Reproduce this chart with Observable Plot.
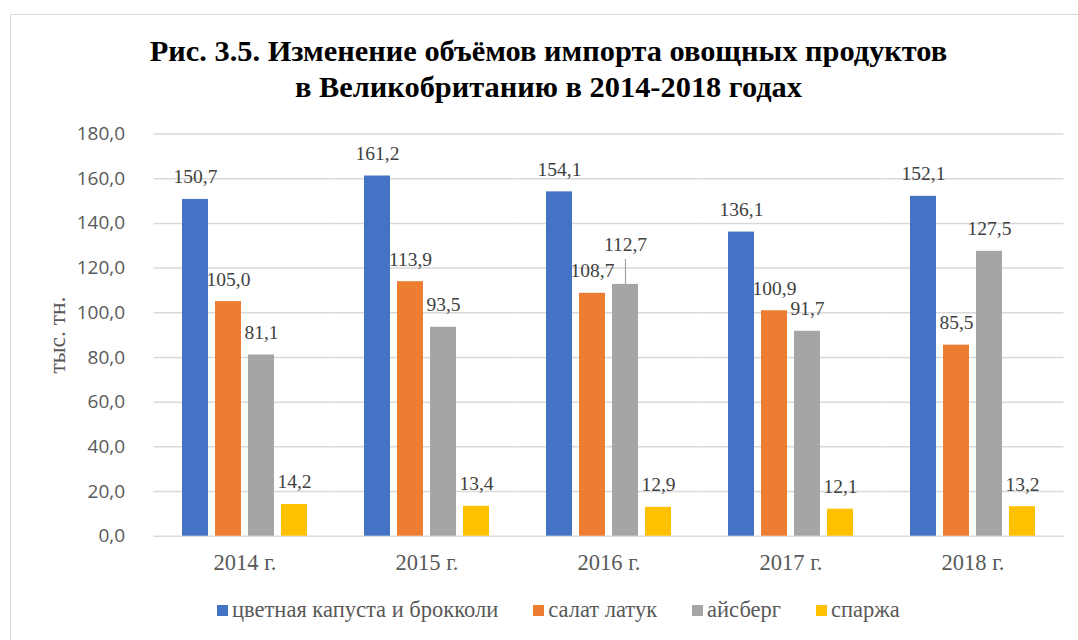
<!DOCTYPE html>
<html><head><meta charset="utf-8">
<script src="https://cdn.jsdelivr.net/npm/d3@7"></script>
<script src="https://cdn.jsdelivr.net/npm/@observablehq/plot@0.6"></script>
<style>
html,body{margin:0;padding:0;background:#fff;overflow:hidden;width:1078px;height:640px;position:relative}
#frame{position:absolute;left:10px;top:14px;width:1100px;height:700px;border:1px solid #d9d9d9;box-sizing:border-box}
#title{position:absolute;left:0;top:33px;width:1097px;text-align:center;font:bold 30.4px/36px "Liberation Serif","Times New Roman",serif;color:#000}
#chart{position:absolute;left:0;top:110px}
#ylabel{position:absolute;left:58px;top:334.6px;transform:translate(-50%,-50%) rotate(-90deg);font:23.5px/23.5px "Liberation Serif","Times New Roman",serif;color:#595959;white-space:nowrap}
#legend{position:absolute;left:217px;top:598px;display:flex;font:22.5px/24px "Liberation Serif","Times New Roman",serif;color:#595959;white-space:nowrap}
#legend .item{margin-right:35px}
#legend .sw{display:inline-block;width:11px;height:11px;margin-right:4px;vertical-align:1px}
</style></head>
<body>
<div id="frame"></div>
<div id="title">Рис. 3.5. Изменение объёмов импорта овощных продуктов<br>в Великобританию в 2014-2018 годах</div>
<div id="chart"></div>
<div id="ylabel"></div>
<div id="legend"></div>
<script>
const years = ["2014 г.", "2015 г.", "2016 г.", "2017 г.", "2018 г."];
const series = ["цветная капуста и брокколи", "салат латук", "айсберг", "спаржа"];
const cauliflowerBroccoli = [150.7, 161.2, 154.1, 136.1, 152.1];
const lettuce = [105.0, 113.9, 108.7, 100.9, 85.5];
const iceberg = [81.1, 93.5, 112.7, 91.7, 127.5];
const asparagus = [14.2, 13.4, 12.9, 12.1, 13.2];
const colors = ["#4472C4", "#ED7D31", "#A5A5A5", "#FFC000"];
const yTicks = [0, 20, 40, 60, 80, 100, 120, 140, 160, 180];
const yLabel = "тыс. тн.";
const raisedLabels = [["2016 г.", "айсберг"]];

const seriesValues = [cauliflowerBroccoli, lettuce, iceberg, asparagus];
const rows = [];
years.forEach((year, i) => series.forEach((s, k) => rows.push({year, series: s, value: seriesValues[k][i]})));
const isRaised = d => raisedLabels.some(([y, s]) => y === d.year && s === d.series);
const fmt = v => v.toFixed(1).replace(".", ",");

const serif = "Liberation Serif, Times New Roman, serif";
const W = 1078, mL = 151, mR = 12;
const pIn = 0.311, pOut = 0.156;
const step = (W - mL - mR) / (years.length - pIn + 2 * pOut);
const halfGap = step * pIn / 2; // extend grid lines across the gaps between year groups

const chart = Plot.plot({
  width: W, height: 480,
  marginLeft: mL, marginRight: mR, marginTop: 23.5, marginBottom: 54.3,
  style: {background: "transparent", overflow: "visible"},
  fx: {domain: years, paddingInner: pIn, paddingOuter: pOut, axis: null, label: null},
  x: {domain: series, paddingInner: 0.22, paddingOuter: 0, axis: null},
  y: {domain: [0, 180], axis: null},
  color: {domain: series, range: colors},
  marks: [
    Plot.ruleY(yTicks, {y: d => d, stroke: "#d9d9d9", strokeWidth: 1.5, insetLeft: -halfGap, insetRight: -halfGap}),
    Plot.axisY({ticks: yTicks, tickFormat: fmt, tickSize: 0, tickPadding: 29 + halfGap, label: null,
      fontSize: 19, fontFamily: "Open Sans", fill: "#595959"}),
    Plot.barY(rows, {fx: "year", x: "series", y: "value", fill: "series"}),
    Plot.text(rows.filter(d => !isRaised(d)), {fx: "year", x: "series", y: "value", text: d => fmt(d.value),
      lineAnchor: "bottom", dy: -16, fontSize: 19.5, fontFamily: serif, fill: "#404040"}),
    Plot.text(rows.filter(isRaised), {fx: "year", x: "series", y: "value", text: d => fmt(d.value),
      lineAnchor: "bottom", dy: -33, fontSize: 19.5, fontFamily: serif, fill: "#404040"}),
    Plot.ruleX(rows.filter(isRaised), {fx: "year", x: "series", y1: "value", y2: "value",
      insetBottom: 25, stroke: "#a5a5a5", strokeWidth: 1.2}),
    Plot.axisFx({anchor: "bottom", tickSize: 0, tickPadding: 18.3, label: null,
      fontSize: 22.5, fontFamily: serif, fill: "#595959"})
  ]
});
document.getElementById("chart").appendChild(chart);
document.getElementById("ylabel").textContent = yLabel;

const legend = document.getElementById("legend");
series.forEach((s, k) => {
  const item = document.createElement("span");
  item.className = "item";
  const sw = document.createElement("span");
  sw.className = "sw";
  sw.style.background = colors[k];
  item.appendChild(sw);
  item.appendChild(document.createTextNode(s));
  legend.appendChild(item);
});
</script>
</body></html>
